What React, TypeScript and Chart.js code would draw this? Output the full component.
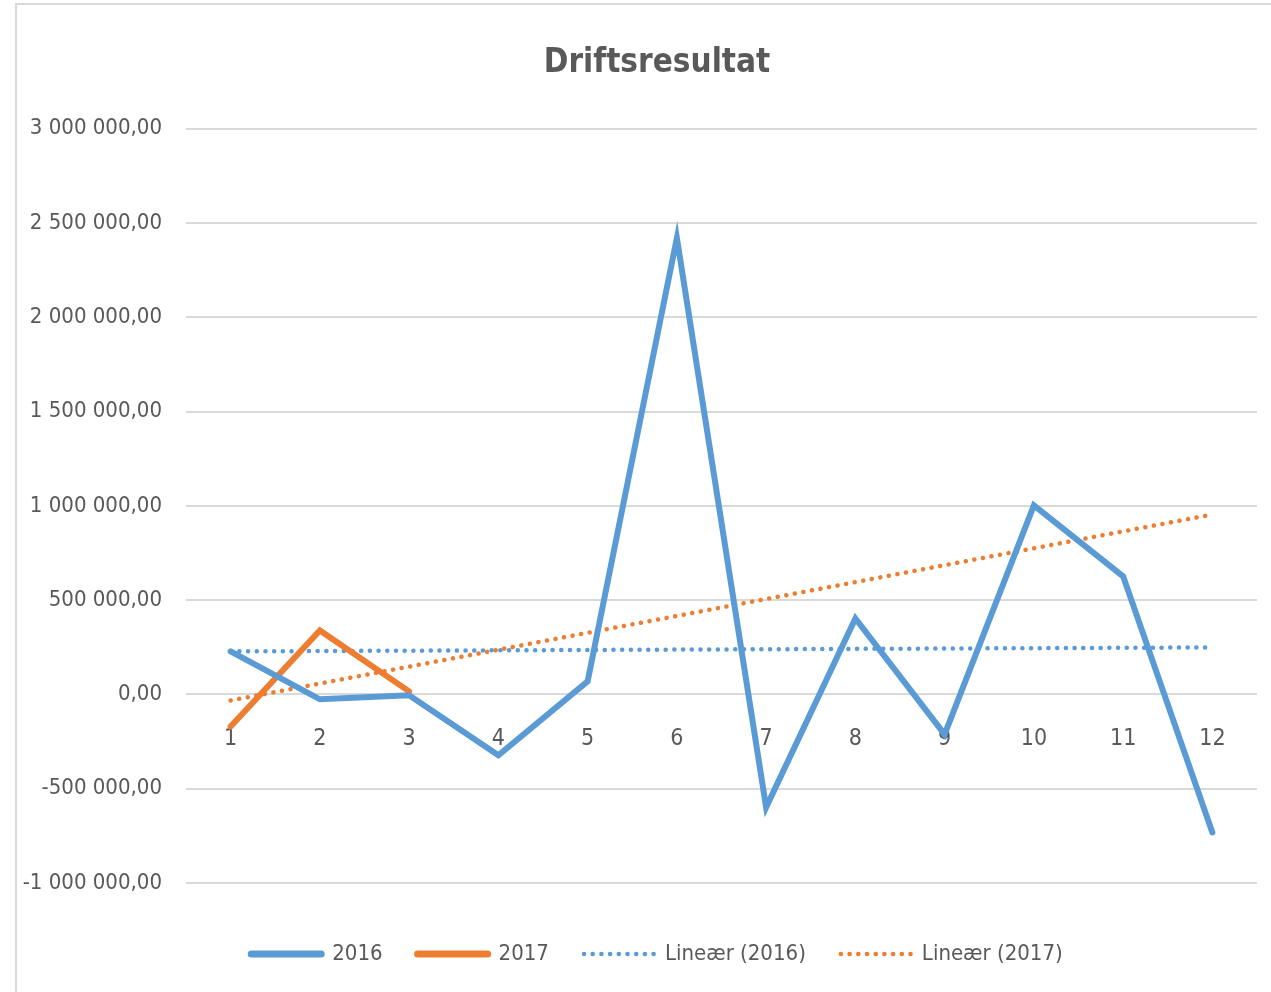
import React, { useEffect, useRef } from "react";
import { Chart, registerables } from "chart.js";

Chart.register(...registerables);

const categories = ["1", "2", "3", "4", "5", "6", "7", "8", "9", "10", "11", "12"];
const values2016 = [228000, -26000, -5000, -323000, 69000, 2420000, -599000, 403000, -212000, 1002000, 626000, -732000];
const values2017 = [-170000, 339000, 16000, null, null, null, null, null, null, null, null, null];
const trend2016 = [228000, null, null, null, null, null, null, null, null, null, null, 249000];
const trend2017 = [-32000, null, null, null, null, null, null, null, null, null, null, 954000];
const seriesNames = ["2016", "2017", "Lineær (2016)", "Lineær (2017)"];
const titleText = "Driftsresultat";
const yMin = -1000000;
const yMax = 3000000;
const yStep = 500000;

const BLUE = "#5b9bd5";
const ORANGE = "#ed7d31";
const TEXT = "#595959";
const GRID = "#d9d9d9";
const FONT = "'DejaVu Sans Condensed', 'Liberation Sans', sans-serif";

function fmt(v: number): string {
  const neg = v < 0;
  const s = Math.abs(v).toFixed(2);
  const [i, d] = s.split(".");
  const g = i.replace(/\B(?=(\d{3})+(?!\d))/g, " ");
  return (neg ? "-" : "") + g + "," + d;
}

export default function App() {
  const ref = useRef<HTMLCanvasElement | null>(null);

  useEffect(() => {
    document.body.style.margin = "0";
    document.body.style.overflow = "hidden";
    if (!ref.current) return;
    const dotted = {
      borderWidth: 4.5,
      borderDash: [0.1, 8.6],
      borderCapStyle: "round" as const,
      spanGaps: true,
      pointRadius: 0,
      fill: false,
    };
    const chart = new Chart(ref.current, {
      type: "line",
      data: {
        labels: categories,
        datasets: [
          {
            label: seriesNames[0],
            data: values2016,
            borderColor: BLUE,
            backgroundColor: BLUE,
            borderWidth: 6,
            borderCapStyle: "round",
            pointRadius: 0,
            fill: false,
          },
          {
            label: seriesNames[1],
            data: values2017,
            borderColor: ORANGE,
            backgroundColor: ORANGE,
            borderWidth: 6,
            borderCapStyle: "round",
            pointRadius: 0,
            fill: false,
          },
          {
            label: seriesNames[2],
            data: trend2016,
            borderColor: BLUE,
            backgroundColor: BLUE,
            ...dotted,
          },
          {
            label: seriesNames[3],
            data: trend2017,
            borderColor: ORANGE,
            backgroundColor: ORANGE,
            ...dotted,
          },
        ],
      },
      options: {
        responsive: false,
        animation: false,
        devicePixelRatio: 1,
        layout: { padding: { left: 0, right: 8, top: 0, bottom: 0 } },
        plugins: {
          title: {
            display: true,
            text: titleText,
            color: TEXT,
            font: { family: FONT, size: 33, weight: "bold" },
            padding: { top: 39, bottom: 45 },
          },
          legend: {
            display: true,
            position: "bottom",
            labels: {
              usePointStyle: true,
              pointStyle: "line",
              pointStyleWidth: 70,
              padding: 35,
              color: TEXT,
              font: { family: FONT, size: 22 },
              generateLabels: (c: any) =>
                c.data.datasets.map((ds: any, i: number) => ({
                  text: ds.label,
                  strokeStyle: ds.borderColor,
                  fillStyle: ds.borderColor,
                  lineWidth: ds.borderDash ? 4.5 : 7,
                  lineDash: ds.borderDash || [],
                  lineCap: "round",
                  pointStyle: "line",
                  fontColor: TEXT,
                  hidden: false,
                  datasetIndex: i,
                })),
            },
          },
          tooltip: { enabled: false },
        },
        scales: {
          x: {
            type: "category",
            position: { y: 0 },
            offset: true,
            grid: { display: false },
            border: { display: false },
            ticks: {
              color: TEXT,
              font: { family: FONT, size: 23 },
              padding: 23,
              maxRotation: 0,
            },
          },
          x2: {
            type: "category",
            position: "bottom",
            labels: categories,
            grid: { display: false },
            border: { display: false },
            ticks: { display: false },
            afterFit: (s: any) => {
              s.height = 25;
            },
          },
          y: {
            min: yMin,
            max: yMax,
            grid: { color: GRID, lineWidth: 2, drawTicks: false },
            border: { display: false },
            ticks: {
              stepSize: yStep,
              color: TEXT,
              font: { family: FONT, size: 22 },
              padding: 24,
              callback: (v: any) => fmt(Number(v)),
            },
            afterFit: (s: any) => {
              s.width = 169;
            },
          },
          y2: {
            position: "right",
            min: yMin,
            max: yMax,
            grid: { display: false },
            border: { display: false },
            ticks: { display: false },
            afterFit: (s: any) => {
              s.width = 40;
            },
          },
        },
      },
    });
    return () => chart.destroy();
  }, []);

  return (
    <div
      style={{
        position: "absolute",
        left: 15,
        top: 3,
        width: 1300,
        height: 1000,
        borderLeft: `2px solid ${GRID}`,
        borderTop: `2px solid ${GRID}`,
        background: "#fff",
      }}
    >
      <canvas ref={ref} width={1288} height={970} />
    </div>
  );
}
